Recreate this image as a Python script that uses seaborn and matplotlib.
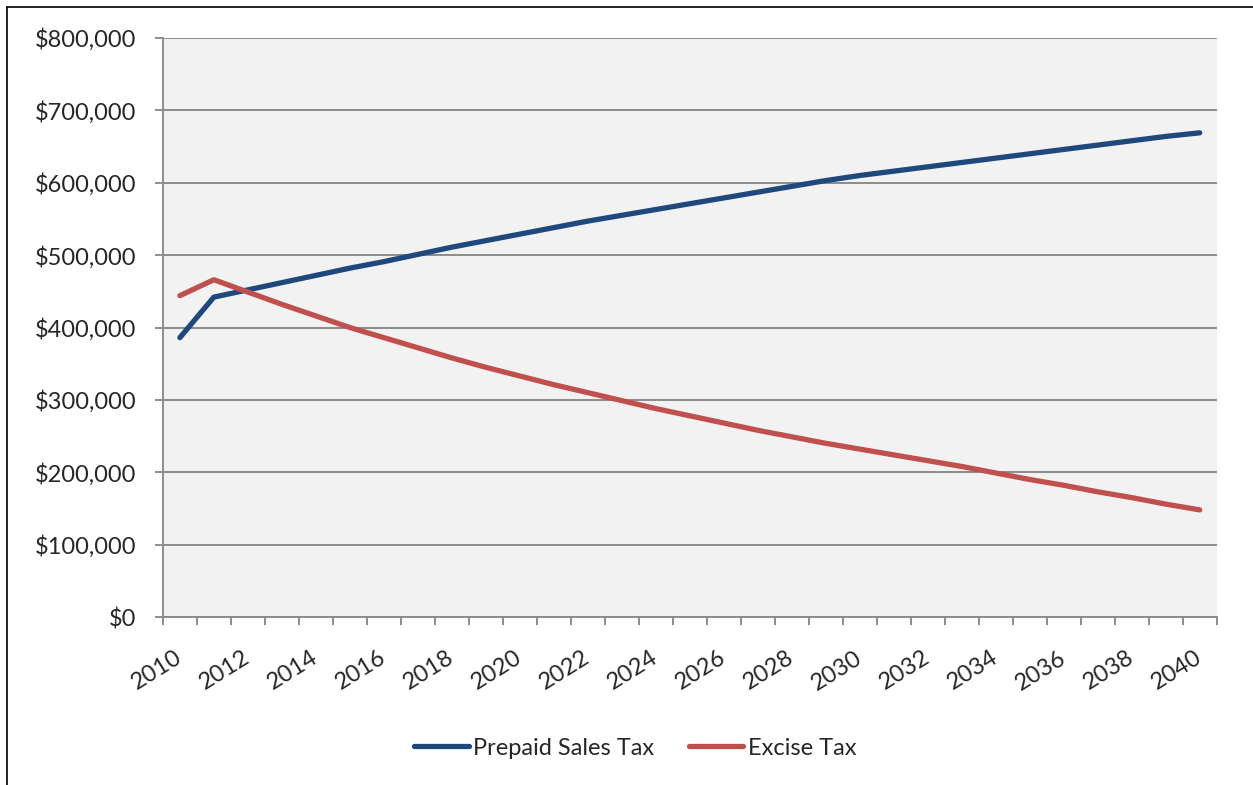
import pandas as pd
import matplotlib.pyplot as plt
import matplotlib.ticker as mticker
import seaborn as sns
from matplotlib.lines import Line2D

years = list(range(2010, 2041))

prepaid_sales_tax = [386000, 442000, 452000, 462000, 472000, 482000, 491000, 501000,
                     511000, 520000, 529000, 538000, 547000, 555000, 563000, 571000,
                     579000, 587000, 595000, 603000, 610000, 616000, 622000, 628000,
                     634000, 640000, 646000, 652000, 658000, 664000, 669000]

excise_tax = [444000, 466000, 449000, 432000, 416000, 400000, 386000, 372000,
              358000, 345000, 333000, 321000, 310000, 299000, 288000, 278000,
              268000, 258000, 249000, 240000, 232000, 224000, 216000, 208000,
              199000, 190000, 182000, 173000, 165000, 156000, 148000]

series_names = ['Prepaid Sales Tax', 'Excise Tax']
series_colors = ['#1F497D', '#C0504D']

df = pd.DataFrame({
    'Year': years * 2,
    'Value': prepaid_sales_tax + excise_tax,
    'Series': [series_names[0]] * len(years) + [series_names[1]] * len(years),
})

sns.set_style('white')
plt.rcParams['font.family'] = ['Lato', 'DejaVu Sans']

fig = plt.figure(figsize=(12.53, 7.85), dpi=100)
ax = fig.add_axes([0.130, 0.214, 0.841, 0.7376])
ax.set_facecolor('#F2F2F2')

sns.lineplot(data=df, x='Year', y='Value', hue='Series', palette=series_colors,
             linewidth=3.8, ax=ax, legend=False, solid_capstyle='round')

ax.set_xlim(2009.5, 2040.5)
ax.set_ylim(0, 800000)

# y axis: dollars, gridlines every 100k
ax.yaxis.set_major_locator(mticker.MultipleLocator(100000))
ax.yaxis.set_major_formatter(mticker.FuncFormatter(lambda v, p: '${:,.0f}'.format(v)))
ax.grid(axis='y', color='#8C8C8C', linewidth=1.4)
ax.set_axisbelow(True)

# x axis: labels on even years, tick marks between categories
ax.xaxis.set_major_locator(mticker.FixedLocator(years[::2]))
ax.xaxis.set_minor_locator(mticker.FixedLocator([y - 0.5 for y in years] + [2040.5]))
ax.tick_params(axis='x', which='major', bottom=True, length=0, pad=28, labelsize=17)
ax.tick_params(axis='x', which='minor', bottom=True, length=6, width=1.4,
               color='#8C8C8C', direction='out')
ax.tick_params(axis='y', left=True, length=6, width=1.4, color='#8C8C8C',
               direction='out', pad=13, labelsize=17)
for lbl in ax.get_xticklabels():
    lbl.set_rotation(32)
    lbl.set_ha('right')
    lbl.set_va('center')
    lbl.set_rotation_mode('anchor')

ax.set_xlabel('')
ax.set_ylabel('')

for side in ['top', 'right']:
    ax.spines[side].set_visible(False)
for side in ['left', 'bottom']:
    ax.spines[side].set_color('#8C8C8C')
    ax.spines[side].set_linewidth(1.4)

handles = [Line2D([0], [0], color=c, linewidth=3.8, solid_capstyle='round') for c in series_colors]
fig.legend(handles, series_names, loc='center', bbox_to_anchor=(0.507, 0.047), ncol=2,
           frameon=False, fontsize=17, handlelength=2.3, handletextpad=0.2, columnspacing=1.45)

# outer chart border (left and top edges only)
fig.add_artist(Line2D([0.0056, 0.0056], [0.0, 0.991], transform=fig.transFigure,
                      color='black', linewidth=1.2))
fig.add_artist(Line2D([0.0056, 1.0], [0.991, 0.991], transform=fig.transFigure,
                      color='black', linewidth=1.2))

fig.savefig('out.png', dpi=100)
